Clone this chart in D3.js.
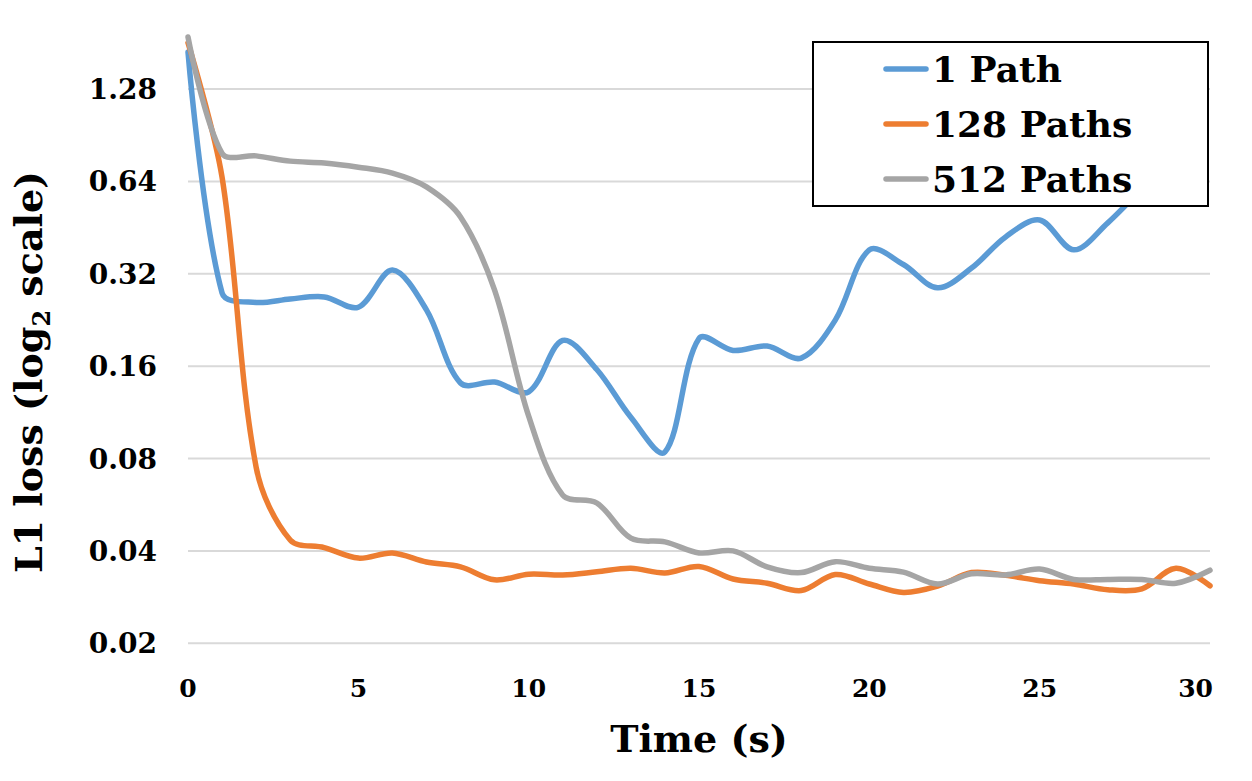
<!DOCTYPE html>
<html>
<head>
<meta charset="utf-8">
<script src="https://cdn.jsdelivr.net/npm/d3@7"></script>
<style>
  body { margin: 0; background: #fff; }
  text { font-family: "DejaVu Serif", serif; font-weight: bold; fill: #000; }
</style>
</head>
<body>
<script>
// values (seconds 0..30); 1 Path disappears behind the legend
let times = d3.range(0, 31)
let onePath = [1.69, 0.277, 0.258, 0.265, 0.269, 0.249, 0.329, 0.244, 0.141, 0.142, 0.132,
  0.194, 0.156, 0.109, 0.084, 0.197, 0.180, 0.186, 0.170, 0.226, 0.383,
  0.343, 0.288, 0.334, 0.422, 0.479, 0.383, 0.469, 0.60, 0.72]
let paths128 = [1.81, 0.66, 0.075, 0.0434, 0.041, 0.0379, 0.0394, 0.0368, 0.0355, 0.0322, 0.0336,
  0.0334, 0.0342, 0.0351, 0.0339, 0.0356, 0.0324, 0.0314, 0.0297, 0.0335, 0.0312,
  0.0293, 0.0307, 0.034, 0.0333, 0.032, 0.0312, 0.0299, 0.0301, 0.0351, 0.0308]
let paths512 = [1.89, 0.79, 0.775, 0.745, 0.735, 0.712, 0.681, 0.614, 0.49, 0.283, 0.11,
  0.0608, 0.0573, 0.044, 0.0428, 0.0394, 0.040, 0.0355, 0.034, 0.0369, 0.0351,
  0.0341, 0.0312, 0.0337, 0.0334, 0.0349, 0.0323, 0.0323, 0.0323, 0.0314, 0.0346]
let seriesNames = ["1 Path", "128 Paths", "512 Paths"]
let seriesColors = ["#5B9BD5", "#ED7D31", "#A5A5A5"]
let yTicks = [0.02, 0.04, 0.08, 0.16, 0.32, 0.64, 1.28]
let yTickLabels = ["0.02", "0.04", "0.08", "0.16", "0.32", "0.64", "1.28"]
let xTicks = [0, 5, 10, 15, 20, 25, 30]

let width = 1252
let height = 781

// spreadsheet-style smoothing: tangent along (next - prev), each handle
// scaled by the length of its own segment so short hops don't overshoot
function smoothCurve(context) {
  let pts = []
  return {
    areaStart() {}, areaEnd() {},
    lineStart() { pts = [] },
    point(x, y) { pts.push([+x, +y]) },
    lineEnd() {
      let n = pts.length
      if (!n) return
      context.moveTo(pts[0][0], pts[0][1])
      let dist = (a, b) => Math.hypot(b[0] - a[0], b[1] - a[1])
      let handles = pts.map((p, i) => {
        if (i == 0 || i == n - 1) return [p, p]
        let a = pts[i - 1], b = pts[i + 1]
        let l1 = dist(a, p), l2 = dist(p, b), s = l1 + l2 || 1
        let tx = b[0] - a[0], ty = b[1] - a[1]
        return [
          [p[0] - tx * l1 / s / 3, p[1] - ty * l1 / s / 3],
          [p[0] + tx * l2 / s / 3, p[1] + ty * l2 / s / 3]
        ]
      })
      for (let i = 1; i < n; i++) {
        let c1 = handles[i - 1][1], c2 = handles[i][0]
        context.bezierCurveTo(c1[0], c1[1], c2[0], c2[1], pts[i][0], pts[i][1])
      }
    }
  }
}

let svg = d3.select("body")
  .append("svg")
  .attr("width", width)
  .attr("height", height)

let xScaler = d3.scaleLinear().domain([0, 30]).range([188, 1210])
let yScaler = d3.scaleLog().base(2).domain([0.02, 1.28]).range([643.3, 89])

// gridlines
svg.append("g")
  .selectAll("line")
  .data(yTicks)
  .join("line")
  .attr("x1", xScaler(0))
  .attr("x2", xScaler(30))
  .attr("y1", d => yScaler(d))
  .attr("y2", d => yScaler(d))
  .attr("stroke", "#D9D9D9")
  .attr("stroke-width", 2)

// y tick labels
svg.append("g")
  .selectAll("text")
  .data(yTicks)
  .join("text")
  .attr("x", 157)
  .attr("y", d => yScaler(d) + 10)
  .attr("text-anchor", "end")
  .style("font-size", "28px")
  .text((d, i) => yTickLabels[i])

// x tick labels (last one is pulled inside the plot edge like the original)
svg.append("g")
  .selectAll("text")
  .data(xTicks)
  .join("text")
  .attr("x", (d, i) => i == xTicks.length - 1 ? 1213 : xScaler(d))
  .attr("y", 697)
  .attr("text-anchor", (d, i) => i == xTicks.length - 1 ? "end" : "middle")
  .style("font-size", "25px")
  .text(d => d)

// lines
let line = d3.line()
  .x((d, i) => xScaler(times[i]))
  .y(d => yScaler(d))
  .curve(smoothCurve)

let allSeries = [onePath, paths128, paths512]
svg.append("g")
  .selectAll("path")
  .data(allSeries)
  .join("path")
  .attr("d", d => line(d))
  .attr("fill", "none")
  .attr("stroke", (d, i) => seriesColors[i])
  .attr("stroke-width", 5.5)
  .attr("stroke-linejoin", "round")
  .attr("stroke-linecap", "round")

// axis titles
svg.append("text")
  .attr("x", 699)
  .attr("y", 752)
  .attr("text-anchor", "middle")
  .style("font-size", "38px")
  .text("Time (s)")

let yTitle = svg.append("text")
  .attr("transform", "translate(42,372) rotate(-90)")
  .attr("text-anchor", "middle")
  .style("font-size", "38px")
yTitle.append("tspan").text("L1 loss (log")
yTitle.append("tspan").attr("dy", 8).style("font-size", "24px").text("2")
yTitle.append("tspan").attr("dy", -8).text(" scale)")

// legend
let legend = svg.append("g")
legend.append("rect")
  .attr("x", 813)
  .attr("y", 42)
  .attr("width", 395)
  .attr("height", 164)
  .attr("fill", "#fff")
  .attr("stroke", "#000")
  .attr("stroke-width", 2)

let rows = legend.selectAll("g.row")
  .data(seriesNames)
  .join("g")
  .attr("class", "row")
  .attr("transform", (d, i) => `translate(0,${69 + i * 55})`)
rows.append("line")
  .attr("x1", 886)
  .attr("x2", 926)
  .attr("stroke", (d, i) => seriesColors[i])
  .attr("stroke-width", 5.5)
  .attr("stroke-linecap", "round")
rows.append("text")
  .attr("x", 932)
  .attr("y", 13)
  .style("font-size", "36px")
  .text(d => d)
</script>
</body>
</html>
